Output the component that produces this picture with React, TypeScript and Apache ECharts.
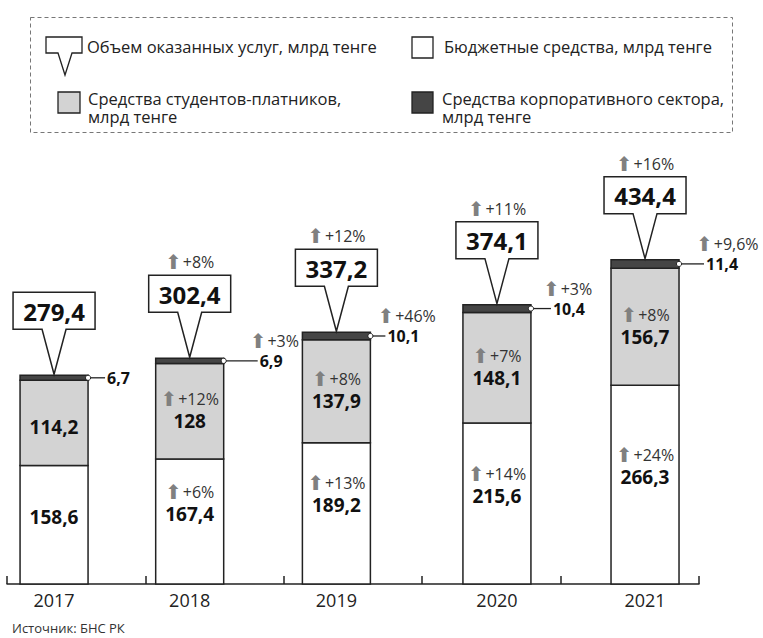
import React, { useEffect, useRef } from 'react';
import * as echarts from 'echarts';

// ---- data ----
const years = ['2017', '2018', '2019', '2020', '2021'];
const budget = [158.6, 167.4, 189.2, 215.6, 266.3];
const paid = [114.2, 128, 137.9, 148.1, 156.7];
const corporate = [6.7, 6.9, 10.1, 10.4, 11.4];
const totals = [279.4, 302.4, 337.2, 374.1, 434.4];
const totalGrowth = ['', '+8%', '+12%', '+11%', '+16%'];
const budgetGrowth = ['', '+6%', '+13%', '+14%', '+24%'];
const paidGrowth = ['', '+12%', '+8%', '+7%', '+8%'];
const corpGrowth = ['', '+3%', '+46%', '+3%', '+9,6%'];

// ---- layout (axis units / pixels) ----
const barPos = [0.34, 1.32, 2.38, 3.54, 4.61];
const leaderLen = [17, 34, 15, 20, 25];

const FONT = "'Open Sans', 'Noto Sans', sans-serif";
const fmt = (v: number) => String(v).replace('.', ',');

const rich = {
  a: { fontFamily: "'DejaVu Sans'", fontSize: 20, fill: '#808080', color: '#808080', lineHeight: 20, padding: [0, 1, 0, 0] },
  p: { fontFamily: FONT, fontSize: 16, fill: '#333', color: '#333', lineHeight: 20 },
  v: { fontFamily: FONT, fontSize: 19, fontWeight: 'bold', fill: '#111', color: '#111', lineHeight: 24 },
};

function segLabel(growth: string, value: number) {
  return growth ? `{a|⬆}{p|${growth}}\n{v|${fmt(value)}}` : `{v|${fmt(value)}}`;
}

export default function App() {
  const ref = useRef<HTMLDivElement>(null);
  useEffect(() => {
    document.body.style.margin = '0';
    if (!ref.current) return;
    const chart = echarts.init(ref.current, null, { renderer: 'svg' });
    const HALF = 34;

    const renderItem = (params: any, api: any) => {
      const i = params.dataIndex;
      const x = barPos[i];
      const c1 = budget[i];
      const c2 = c1 + paid[i];
      const c3 = c2 + corporate[i];
      const p0 = api.coord([x, 0]);
      const p1 = api.coord([x, c1]);
      const p2 = api.coord([x, c2]);
      const p3 = api.coord([x, c3]);
      const cx = p0[0];
      const left = cx - HALF;
      const right = cx + HALF;
      const stroke = '#222';
      const children: any[] = [];
      children.push({ type: 'rect', shape: { x: left, y: p1[1], width: HALF * 2, height: p0[1] - p1[1] }, style: { fill: '#ffffff', stroke, lineWidth: 1.5 } });
      children.push({ type: 'rect', shape: { x: left, y: p2[1], width: HALF * 2, height: p1[1] - p2[1] }, style: { fill: '#d3d3d3', stroke, lineWidth: 1.5 } });
      children.push({ type: 'rect', shape: { x: left, y: p3[1], width: HALF * 2, height: p2[1] - p3[1] }, style: { fill: '#454545', stroke, lineWidth: 1.5 } });

      // segment labels
      const whiteMid = (p0[1] + p1[1]) / 2 + (budgetGrowth[i] ? -18 : -8);
      children.push({ type: 'text', style: { text: segLabel(budgetGrowth[i], budget[i]), rich, x: cx, y: whiteMid, align: 'center', verticalAlign: 'middle' } });
      const grayMid = (p1[1] + p2[1]) / 2 + (paidGrowth[i] ? 0 : 4);
      children.push({ type: 'text', style: { text: segLabel(paidGrowth[i], paid[i]), rich, x: cx, y: grayMid, align: 'center', verticalAlign: 'middle' } });

      // corporate leader
      const dy = (p2[1] + p3[1]) / 2;
      const lx = right + leaderLen[i];
      children.push({ type: 'line', shape: { x1: right, y1: dy, x2: lx, y2: dy }, style: { stroke, lineWidth: 1.3 } });
      children.push({ type: 'circle', shape: { cx: right, cy: dy, r: 2.6 }, style: { fill: '#fff', stroke, lineWidth: 1 } });
      children.push({ type: 'text', style: { text: fmt(corporate[i]), x: lx + 2, y: dy, align: 'left', verticalAlign: 'middle', fontFamily: FONT, fontSize: 16, fontWeight: 'bold', fill: '#111' } });
      if (corpGrowth[i]) {
        children.push({ type: 'text', style: { text: `{a|⬆}{p|${corpGrowth[i]}}`, rich, x: lx - 8, y: dy - 20, align: 'left', verticalAlign: 'middle' } });
      }

      // callout
      const tipY = p3[1] - 1;
      const bb = p3[1] - 46;
      const bt = bb - 37;
      const bl = cx - 41;
      const br = cx + 41;
      children.push({
        type: 'polygon',
        shape: { points: [[bl, bt], [br, bt], [br, bb], [cx + 12, bb], [cx, tipY], [cx - 12, bb], [bl, bb]] },
        style: { fill: '#fff', stroke, lineWidth: 1.5 },
      });
      children.push({ type: 'text', style: { text: fmt(totals[i]), x: cx, y: bt + 19, align: 'center', verticalAlign: 'middle', fontFamily: FONT, fontSize: 24, fontWeight: 'bold', fill: '#111' } });
      if (totalGrowth[i]) {
        children.push({ type: 'text', style: { text: `{a|⬆}{p|${totalGrowth[i]}}`, rich, x: cx, y: bt - 13, align: 'center', verticalAlign: 'middle' } });
      }

      // year label
      children.push({ type: 'text', style: { text: years[i], x: cx, y: p0[1] + 16, align: 'center', verticalAlign: 'middle', fontFamily: FONT, fontSize: 18, fill: '#222' } });
      return { type: 'group', children };
    };

    const lt = { fontFamily: FONT, fontSize: 16.5, fill: '#222', lineHeight: 17 };
    chart.setOption({
      animation: false,
      grid: { left: 7, right: 64, top: 136, bottom: 54, containLabel: false },
      xAxis: {
        type: 'value', min: 0, max: 5, interval: 1,
        axisLine: { show: true, lineStyle: { color: '#222', width: 1.5 } },
        axisTick: { show: true, inside: true, length: 8, lineStyle: { color: '#222', width: 1.5 } },
        axisLabel: { show: false },
        splitLine: { show: false },
      },
      yAxis: { type: 'value', min: 0, max: 600, show: false },
      series: [
        {
          type: 'custom',
          renderItem,
          clip: false,
          encode: { x: 0, y: 1 },
          data: years.map((_, i) => [barPos[i], totals[i]]),
        },
      ],
      graphic: [
        { type: 'rect', shape: { x: 30.5, y: 17.5, width: 702, height: 115 }, style: { fill: 'none', stroke: '#777', lineWidth: 1, lineDash: [4, 3] } },
        { type: 'polygon', shape: { points: [[46, 37], [82, 37], [82, 53], [72, 53], [65, 75], [58, 53], [46, 53]] }, style: { fill: '#fff', stroke: '#222', lineWidth: 1.3 } },
        { type: 'text', style: { text: 'Объем оказанных услуг, млрд тенге', x: 87, y: 46, verticalAlign: 'middle', ...lt } },
        { type: 'rect', shape: { x: 412, y: 37, width: 21, height: 21 }, style: { fill: '#fff', stroke: '#222', lineWidth: 1.3 } },
        { type: 'text', style: { text: 'Бюджетные средства, млрд тенге', x: 444, y: 46, verticalAlign: 'middle', ...lt } },
        { type: 'rect', shape: { x: 58, y: 92, width: 22, height: 21 }, style: { fill: '#d3d3d3', stroke: '#222', lineWidth: 1.3 } },
        { type: 'text', style: { text: 'Средства студентов-платников,', x: 88, y: 98, verticalAlign: 'middle', ...lt } },
        { type: 'text', style: { text: 'млрд тенге', x: 88, y: 116, verticalAlign: 'middle', ...lt } },
        { type: 'rect', shape: { x: 412, y: 92, width: 21, height: 21 }, style: { fill: '#454545', stroke: '#222', lineWidth: 1.3 } },
        { type: 'text', style: { text: 'Средства корпоративного сектора,', x: 442, y: 98, verticalAlign: 'middle', ...lt } },
        { type: 'text', style: { text: 'млрд тенге', x: 442, y: 116, verticalAlign: 'middle', ...lt } },
        { type: 'text', style: { text: 'Источник: БНС РК', x: 12, y: 628, verticalAlign: 'middle', fontFamily: FONT, fontSize: 13, fill: '#333' } },
      ],
    });
    return () => chart.dispose();
  }, []);
  return <div ref={ref} style={{ position: 'absolute', left: 0, top: 0, width: 763, height: 638, background: '#fff' }} />;
}
